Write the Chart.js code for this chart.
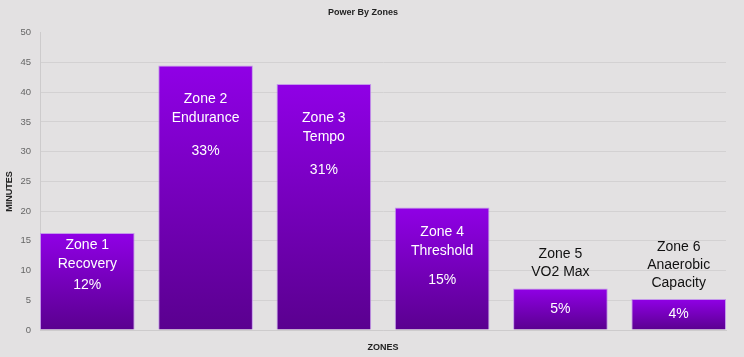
<!DOCTYPE html>
<html>
<head>
<meta charset="utf-8">
<script src="https://cdn.jsdelivr.net/npm/chart.js@4"></script>
<style>
  html, body { margin: 0; padding: 0; background: #e3e1e2; }
  #wrap { width: 744px; height: 357px; }
</style>
</head>
<body>
<div id="wrap"><canvas id="c" width="744" height="357"></canvas></div>
<script>
// ---- data ----
const zoneTitles = ['Zone 1', 'Zone 2', 'Zone 3', 'Zone 4', 'Zone 5', 'Zone 6'];
const zoneNames = [['Recovery'], ['Endurance'], ['Tempo'], ['Threshold'], ['VO2 Max'], ['Anaerobic', 'Capacity']];
const minutes = [16.3, 44.5, 41.4, 20.6, 7.0, 5.2];
const percentLabels = ['12%', '33%', '31%', '15%', '5%', '4%'];
const yTickValues = [0, 5, 10, 15, 20, 25, 30, 35, 40, 45, 50];
const yAxisTitle = 'MINUTES';

const FONT = "'Liberation Sans', Arial, Helvetica, sans-serif";

const barLabels = {
  id: 'barLabels',
  afterDatasetsDraw(chart) {
    const ctx = chart.ctx;
    const meta = chart.getDatasetMeta(0);
    ctx.save();
    ctx.font = '14px ' + FONT;
    ctx.textAlign = 'center';
    ctx.textBaseline = 'middle';
    meta.data.forEach((bar, i) => {
      const x = bar.x, top = bar.y, base = bar.base;
      const h = base - top;
      const lines = [zoneTitles[i]].concat(zoneNames[i]);
      const lh = 19;
      if (h > 90) {
        ctx.fillStyle = '#ffffff';
        const y1 = top + Math.min(34, (h - 72) / 2);
        lines.forEach((t, k) => ctx.fillText(t, x, y1 + k * lh));
        const last = y1 + (lines.length - 1) * lh;
        const gap = Math.min(33, 21 + (h - 97) * 0.3);
        ctx.fillText(percentLabels[i], x, last + gap);
      } else {
        ctx.fillStyle = '#111111';
        const lastY = top - 16;
        const n = lines.length;
        lines.forEach((t, k) => ctx.fillText(t, x, lastY - (n - 1 - k) * (lh - 1)));
        ctx.fillStyle = '#ffffff';
        ctx.fillText(percentLabels[i], x, (top + base) / 2);
      }
    });
    // y axis title
    const area = chart.chartArea;
    ctx.save();
    ctx.translate(10, (area.top + area.bottom) / 2 + 10);
    ctx.rotate(-Math.PI / 2);
    ctx.font = 'bold 9px ' + FONT;
    ctx.fillStyle = '#222';
    ctx.fillText(yAxisTitle, 0, 0);
    ctx.restore();
    ctx.restore();
  }
};

new Chart(document.getElementById('c'), {
  type: 'bar',
  data: {
    datasets: [{
      data: minutes.map((v, i) => ({ x: i, y: v })),
      backgroundColor: (c) => {
        const chart = c.chart;
        if (!chart.chartArea) return '#7a00c4';
        const ys = chart.scales.y;
        const v = minutes[c.dataIndex] || 0;
        const top = ys.getPixelForValue(v);
        const bot = ys.getPixelForValue(0);
        const g = chart.ctx.createLinearGradient(0, top, 0, bot);
        g.addColorStop(0, '#9000e6');
        g.addColorStop(1, '#5a008f');
        return g;
      },
      borderColor: 'rgba(190,140,235,0.85)',
      borderWidth: 1,
      barPercentage: 0.8,
      categoryPercentage: 1.0
    }]
  },
  options: {
    responsive: false,
    animation: false,
    layout: { padding: { left: 0, right: 18, top: 0, bottom: 0 } },
    plugins: {
      legend: { display: false },
      tooltip: { enabled: false },
      title: {
        display: true,
        text: 'Power By Zones',
        color: '#222',
        font: { family: FONT, size: 9, weight: 'bold' },
        padding: { top: 7, bottom: 15 }
      }
    },
    scales: {
      x: {
        type: 'linear',
        min: -0.4,
        max: 5.4,
        offset: false,
        afterBuildTicks(s) { s.ticks = minutes.map((v, i) => ({ value: i })); },
        ticks: { display: false },
        grid: { drawOnChartArea: false, drawTicks: false, offset: false },
        border: { display: true, color: '#cdcbcc' },
        title: {
          display: true,
          text: 'ZONES',
          color: '#222',
          font: { family: FONT, size: 9, weight: 'bold' }
        },
        afterFit(s) { s.height = 27; }
      },
      y: {
        min: 0,
        max: 50,
        afterBuildTicks(s) { s.ticks = yTickValues.map(v => ({ value: v })); },
        ticks: {
          color: '#666',
          padding: 9,
          font: { family: FONT, size: 9.5 }
        },
        grid: {
          drawTicks: false,
          color: (c) => (c.tick && c.tick.value === 50) ? 'rgba(0,0,0,0)' : '#d3d1d2'
        },
        border: { display: true, color: '#cdcbcc' },
        afterFit(s) { s.width = 40; }
      }
    }
  },
  plugins: [barLabels]
});
</script>
</body>
</html>
